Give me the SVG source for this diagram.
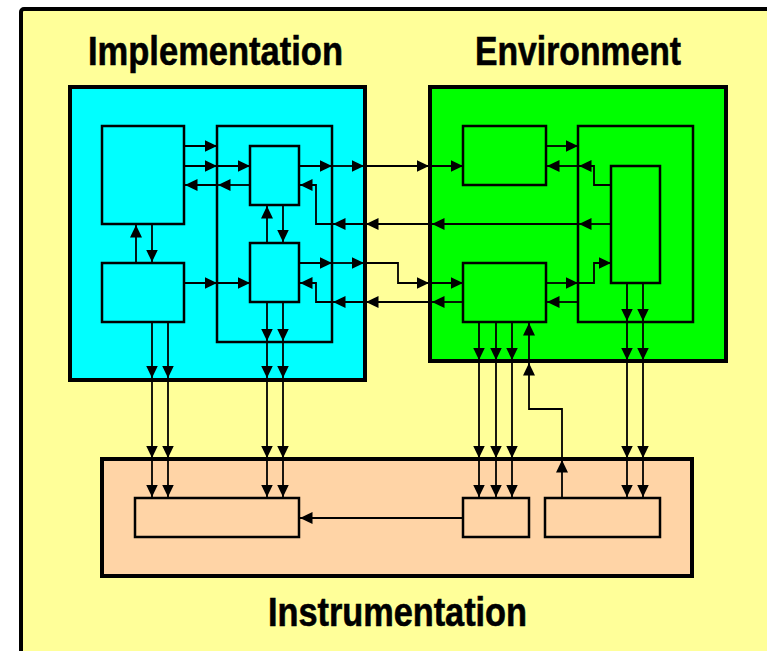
<svg xmlns="http://www.w3.org/2000/svg" width="767" height="651" viewBox="0 0 767 651">
  <defs>
    <marker id="ah" viewBox="0 0 12.5 12" refX="12.5" refY="6" markerWidth="12.5" markerHeight="12" markerUnits="userSpaceOnUse" orient="auto">
      <path d="M0,0 L12.5,6 L0,12 Z" fill="#000"/>
    </marker>
  </defs>
  <style>
    .outer { stroke: #000; stroke-width: 4; }
    .box { stroke: #000; stroke-width: 2.5; }
    .impl { fill: #00FFFF; }
    .env { fill: #00FF00; }
    .instr { fill: #FFD4A6; }
    .title { font-family: "Liberation Sans", Arial, sans-serif; font-weight: bold; font-size: 40px; fill: #000; stroke: #000; stroke-width: 0.6; }
    #connectors line, #connectors polyline { fill: none; stroke: #000; stroke-width: 1.8; marker-end: url(#ah); }
  </style>

  <rect x="0" y="0" width="767" height="651" fill="#FFFFFF"/>
  <!-- framed backdrop -->
  <rect x="21" y="9" width="800" height="700" rx="3" fill="#FFFF99" stroke="#000" stroke-width="4"/>

  <text class="title" x="88" y="65" textLength="255" lengthAdjust="spacingAndGlyphs">Implementation</text>
  <text class="title" x="475" y="65" textLength="206" lengthAdjust="spacingAndGlyphs">Environment</text>
  <text class="title" x="268" y="626" textLength="259" lengthAdjust="spacingAndGlyphs">Instrumentation</text>

  <g id="implementation">
    <rect class="outer impl" x="70" y="87" width="295" height="293"/>
    <g id="impl-a"><rect class="box impl" x="102" y="126" width="82" height="98"/></g>
    <g id="impl-b"><rect class="box impl" x="102" y="263" width="82" height="59"/></g>
    <g id="impl-core">
      <rect class="box impl" x="217" y="126" width="115" height="216"/>
      <g id="impl-c"><rect class="box impl" x="250" y="146" width="49" height="59"/></g>
      <g id="impl-d"><rect class="box impl" x="250" y="243" width="49" height="59"/></g>
    </g>
  </g>

  <g id="environment">
    <rect class="outer env" x="430" y="87" width="296" height="274"/>
    <g id="env-e"><rect class="box env" x="463" y="126" width="83" height="59"/></g>
    <g id="env-f"><rect class="box env" x="463" y="263" width="83" height="59"/></g>
    <g id="env-core">
      <rect class="box env" x="578" y="126" width="115" height="196"/>
      <g id="env-g"><rect class="box env" x="611" y="166" width="49" height="117"/></g>
    </g>
  </g>

  <g id="instrumentation">
    <rect class="outer instr" x="102" y="459" width="590" height="117"/>
    <g id="instr-1"><rect class="box instr" x="135" y="498" width="164" height="39"/></g>
    <g id="instr-2"><rect class="box instr" x="463" y="498" width="66" height="39"/></g>
    <g id="instr-3"><rect class="box instr" x="545" y="498" width="115" height="39"/></g>
  </g>

  <g id="connectors">
    <!-- inside Implementation -->
    <line x1="184" y1="146" x2="217" y2="146"/>
    <line x1="184" y1="166" x2="217" y2="166"/>
    <line x1="217" y1="166" x2="250" y2="166"/>
    <line x1="250" y1="185" x2="218" y2="185"/>
    <line x1="218" y1="185" x2="185" y2="185"/>
    <line x1="136" y1="263" x2="136" y2="225"/>
    <line x1="152" y1="224" x2="152" y2="262"/>
    <line x1="267" y1="243" x2="267" y2="206"/>
    <line x1="283" y1="205" x2="283" y2="242"/>
    <line x1="184" y1="283" x2="217" y2="283"/>
    <line x1="217" y1="283" x2="250" y2="283"/>

    <!-- C to E -->
    <line x1="299" y1="166" x2="332" y2="166"/>
    <line x1="332" y1="166" x2="364" y2="166"/>
    <line x1="364" y1="166" x2="429" y2="166"/>
    <line x1="429" y1="166" x2="463" y2="166"/>

    <!-- G to C -->
    <line x1="611" y1="224" x2="579" y2="224"/>
    <line x1="579" y1="224" x2="432" y2="224"/>
    <line x1="432" y1="224" x2="366" y2="224"/>
    <line x1="366" y1="224" x2="333" y2="224"/>
    <polyline points="333,224 316,224 316,185 300,185"/>

    <!-- D to F -->
    <line x1="299" y1="263" x2="332" y2="263"/>
    <line x1="332" y1="263" x2="364" y2="263"/>
    <polyline points="364,263 398,263 398,283 429,283"/>
    <line x1="429" y1="283" x2="463" y2="283"/>

    <!-- F to D -->
    <line x1="463" y1="302" x2="432" y2="302"/>
    <line x1="432" y1="302" x2="366" y2="302"/>
    <line x1="366" y1="302" x2="333" y2="302"/>
    <polyline points="333,302 316,302 316,283 300,283"/>

    <!-- inside Environment -->
    <line x1="546" y1="146" x2="578" y2="146"/>
    <polyline points="611,185 594,185 594,166 579,166"/>
    <line x1="579" y1="166" x2="547" y2="166"/>
    <line x1="546" y1="283" x2="578" y2="283"/>
    <polyline points="578,283 594,283 594,263 611,263"/>
    <line x1="578" y1="302" x2="547" y2="302"/>

    <!-- G down to Instrumentation -->
    <line x1="627" y1="283" x2="627" y2="321"/>
    <line x1="627" y1="321" x2="627" y2="360"/>
    <line x1="627" y1="360" x2="627" y2="458"/>
    <line x1="627" y1="458" x2="627" y2="497"/>
    <line x1="643" y1="283" x2="643" y2="321"/>
    <line x1="643" y1="321" x2="643" y2="360"/>
    <line x1="643" y1="360" x2="643" y2="458"/>
    <line x1="643" y1="458" x2="643" y2="497"/>

    <!-- F down to Instrumentation -->
    <line x1="479" y1="322" x2="479" y2="360"/>
    <line x1="479" y1="360" x2="479" y2="458"/>
    <line x1="479" y1="458" x2="479" y2="497"/>
    <line x1="496" y1="322" x2="496" y2="360"/>
    <line x1="496" y1="360" x2="496" y2="458"/>
    <line x1="496" y1="458" x2="496" y2="497"/>
    <line x1="512" y1="322" x2="512" y2="360"/>
    <line x1="512" y1="360" x2="512" y2="458"/>
    <line x1="512" y1="458" x2="512" y2="497"/>

    <!-- Instrumentation back up to F -->
    <line x1="562" y1="498" x2="562" y2="460"/>
    <polyline points="562,460 562,409 529,409 529,363"/>
    <line x1="529" y1="363" x2="529" y2="323"/>

    <!-- B down to Instrumentation -->
    <line x1="152" y1="322" x2="152" y2="378"/>
    <line x1="152" y1="378" x2="152" y2="458"/>
    <line x1="152" y1="458" x2="152" y2="497"/>
    <line x1="168" y1="322" x2="168" y2="378"/>
    <line x1="168" y1="378" x2="168" y2="458"/>
    <line x1="168" y1="458" x2="168" y2="497"/>

    <!-- D down to Instrumentation -->
    <line x1="267" y1="302" x2="267" y2="341"/>
    <line x1="267" y1="341" x2="267" y2="378"/>
    <line x1="267" y1="378" x2="267" y2="458"/>
    <line x1="267" y1="458" x2="267" y2="497"/>
    <line x1="283" y1="302" x2="283" y2="341"/>
    <line x1="283" y1="341" x2="283" y2="378"/>
    <line x1="283" y1="378" x2="283" y2="458"/>
    <line x1="283" y1="458" x2="283" y2="497"/>

    <!-- inside Instrumentation -->
    <line x1="463" y1="518" x2="300" y2="518"/>
  </g>
</svg>
